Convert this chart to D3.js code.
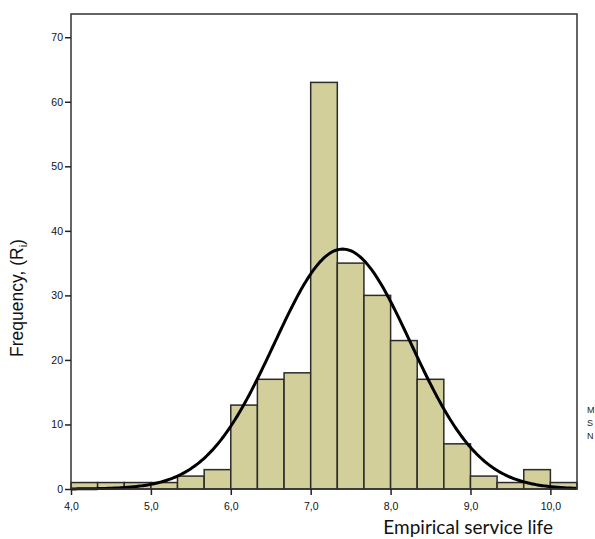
<!DOCTYPE html>
<html>
<head>
<meta charset="utf-8">
<script src="https://cdn.jsdelivr.net/npm/d3@7"></script>
<style>
  body { margin: 0; background: #fff; }
  svg text { font-family: "Liberation Sans", Arial, sans-serif; }
</style>
</head>
<body>
<div id="chart"></div>
<script>
// histogram bins (lower edge of each bin, width 1/3)
const binStarts = [4.0, 4.333, 4.667, 5.0, 5.333, 5.667, 6.0, 6.333, 6.667, 7.0,
                   7.333, 7.667, 8.0, 8.333, 8.667, 9.0, 9.333, 9.667, 10.0];
const binCounts = [1, 1, 1, 1, 2, 3, 13, 17, 18, 63,
                   35, 30, 23, 17, 7, 2, 1, 3, 1];
const binWidth = 1 / 3;

// fitted normal curve
const fitMean = 7.4;
const fitSd = 0.855;

const xTicks = [4, 5, 6, 7, 8, 9, 10];
const yTicks = [0, 10, 20, 30, 40, 50, 60, 70];

const width = 595, height = 539;
const margin = { top: 14, right: 18, bottom: 50, left: 71 };
const innerW = width - margin.left - margin.right;
const innerH = height - margin.top - margin.bottom;

const svg = d3.select('#chart').append('svg')
    .attr('width', width)
    .attr('height', height);

const chart = svg.append('g')
    .attr('transform', `translate(${margin.left},${margin.top})`);

const xScale = d3.scaleLinear()
    .domain([4, 10 + binWidth])
    .range([0, innerW]);

const yScale = d3.scaleLinear()
    .domain([0, 73.6])
    .range([innerH, 0]);

// bars
chart.selectAll('rect.bar')
    .data(binStarts.map((s, i) => ({ x0: s, x1: s + binWidth, n: binCounts[i] })))
    .join('rect')
    .attr('class', 'bar')
    .attr('x', d => xScale(d.x0))
    .attr('width', d => xScale(d.x1) - xScale(d.x0))
    .attr('y', d => yScale(d.n))
    .attr('height', d => yScale(0) - yScale(d.n))
    .attr('fill', '#d3cf9a')
    .attr('stroke', '#2b2b2b')
    .attr('stroke-width', 1.5);

// normal curve scaled to counts
const total = d3.sum(binCounts);
const normal = x => total * binWidth / (fitSd * Math.sqrt(2 * Math.PI)) *
    Math.exp(-0.5 * Math.pow((x - fitMean) / fitSd, 2));
const curveXs = d3.range(4, 10 + binWidth + 0.001, 0.02);

chart.append('path')
    .datum(curveXs)
    .attr('fill', 'none')
    .attr('stroke', '#000')
    .attr('stroke-width', 3)
    .attr('d', d3.line().x(d => xScale(d)).y(d => yScale(normal(d))));

// frame
chart.append('rect')
    .attr('x', 0).attr('y', 0)
    .attr('width', innerW).attr('height', innerH)
    .attr('fill', 'none')
    .attr('stroke', '#333')
    .attr('stroke-width', 1.5);

// axes
const xAxis = d3.axisBottom(xScale)
    .tickValues(xTicks)
    .tickSize(6)
    .tickSizeOuter(0)
    .tickFormat(d => d3.format('.1f')(d).replace('.', ','));

const yAxis = d3.axisLeft(yScale)
    .tickValues(yTicks)
    .tickSize(6)
    .tickSizeOuter(0);

const xAxisG = chart.append('g')
    .attr('transform', `translate(0,${innerH})`)
    .call(xAxis);
xAxisG.select('.domain').remove();
xAxisG.selectAll('line').attr('stroke', '#222').attr('stroke-width', 1.5);
xAxisG.selectAll('text').attr('font-size', 10.5).attr('fill', '#111').attr('dy', '1.1em');

const yAxisG = chart.append('g').call(yAxis);
yAxisG.select('.domain').remove();
yAxisG.selectAll('line').attr('stroke', '#222').attr('stroke-width', 1.5);
yAxisG.selectAll('text').attr('font-size', 10.5).attr('fill', '#111').attr('x', -8);

// axis titles
svg.append('text')
    .attr('x', 553)
    .attr('y', 534)
    .attr('text-anchor', 'end')
    .attr('font-size', 19)
    .style('font-family', 'Lato, "Open Sans", sans-serif')
    .attr('fill', '#111')
    .text('Empirical service life');

const yTitle = svg.append('text')
    .attr('transform', `translate(23,${298}) rotate(-90)`)
    .attr('text-anchor', 'middle')
    .attr('font-size', 17.5)
    .attr('fill', '#111');
yTitle.append('tspan').text('Frequency, (R');
yTitle.append('tspan').attr('font-size', 11).attr('dy', 4).text('i');
yTitle.append('tspan').attr('dy', -4).text(')');

// side legend fragments at the right edge (mostly outside the picture in the reference)
svg.selectAll('text.side')
    .data(['M', 'S', 'N'])
    .join('text')
    .attr('class', 'side')
    .attr('x', 587)
    .attr('y', (d, i) => 413 + i * 13)
    .attr('font-size', 9)
    .attr('fill', '#222')
    .text(d => d);
</script>
</body>
</html>
